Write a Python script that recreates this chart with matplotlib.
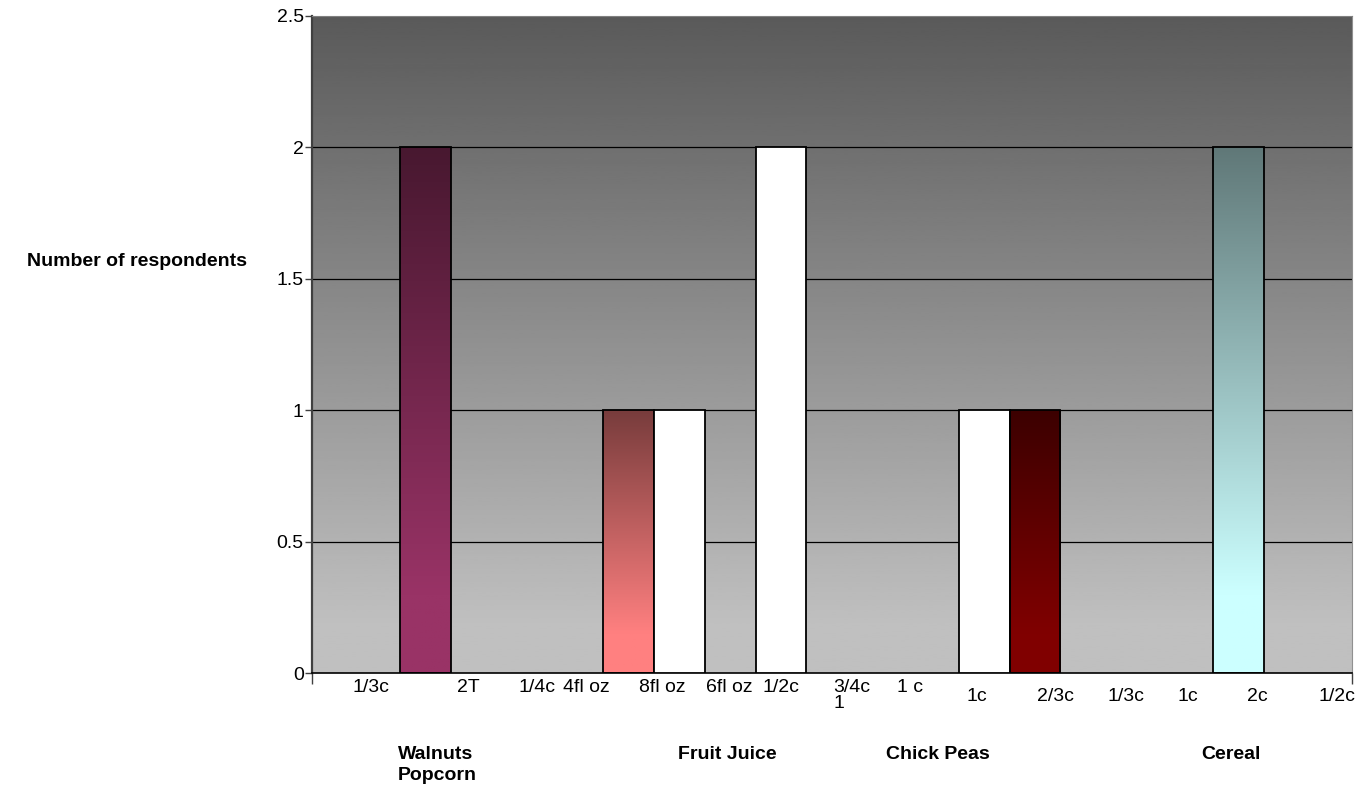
import matplotlib.pyplot as plt
import numpy as np
from matplotlib.colors import to_rgb

plt.rcParams['font.family'] = ['Liberation Sans', 'DejaVu Sans']

# respondents per slot along the category axis (0 = no bar)
respondents = [0, 2, 0, 0, 0, 1, 1, 0, 2, 0, 0, 0, 1, 1, 0, 0, 0, 2, 0, 0]
# colours of the drawn bars, in order, and whether they are shaded
bar_colors = ["#993366", "#ff8080", "#ffffff", "#ffffff", "#ffffff", "#800000", "#ccffff"]
bar_shaded = [True, True, False, False, False, True, True]

portion_labels = ["1/3c", "2T", "1/4c", "4fl oz", "8fl oz", "6fl oz", "1/2c",
                  "3/4c\n1", "1 c", "1c", "2/3c", "1/3c", "1c", "2c", "1/2c"]
portion_pos = [-0.07, 1.84, 3.2, 4.16, 5.66, 6.99, 8.0,
               9.4, 10.54, 11.86, 13.41, 14.79, 16.01, 17.37, 18.94]

food_labels = ["Walnuts\nPopcorn", "Fruit Juice", "Chick Peas", "Cereal"]
food_pos = [1.23, 6.94, 11.09, 16.86]

xmin, xmax = -1.234, 19.24
ymax = 2.5

fig = plt.figure(figsize=(13.63, 7.96), dpi=100)
ax = fig.add_axes([312 / 1363, 123 / 796, 1040 / 1363, 657 / 796])

# fondo en degradado gris
f = np.linspace(0, 1, 256)
gray = 90 + np.clip(f / 0.93, 0, 1) * 102
ax.imshow(gray[:, None], extent=[xmin, xmax, 0, ymax], aspect='auto',
          cmap='gray', vmin=0, vmax=255, zorder=0)

# lineas de la cuadricula
for yv in [0.5, 1, 1.5, 2]:
    ax.axhline(yv, color='black', linewidth=0.9, zorder=1)

k = 0
for i, v in enumerate(respondents):
    if v == 0:
        continue
    c = bar_colors[k]
    if bar_shaded[k]:
        b = ax.bar(i, v, width=1.0, facecolor='none', edgecolor='black',
                   linewidth=1.3, zorder=3)[0]
        rgb = np.array(to_rgb(c))
        top = rgb * 0.47
        t = np.clip(np.linspace(0, 1, 200) / 0.85, 0, 1)[:, None]
        img = (top + (rgb - top) * t).reshape(200, 1, 3)
        im = ax.imshow(img, extent=[i - 0.5, i + 0.5, 0, v], aspect='auto', zorder=2)
        im.set_clip_path(b)
    else:
        ax.bar(i, v, width=1.0, color=c, edgecolor='black', linewidth=1.3, zorder=3)
    k += 1

ax.set_xlim(xmin, xmax)
ax.set_ylim(0, ymax)
ax.set_yticks([0, 0.5, 1, 1.5, 2, 2.5])
ax.set_yticklabels(["0", "0.5", "1", "1.5", "2", "2.5"])
ax.set_xticks([xmin, xmax])
ax.set_xticklabels([])
ax.tick_params(axis='y', length=5, width=1, pad=1, labelsize=14, color='#404040')
ax.tick_params(axis='x', length=8, width=1, color='#404040')

ax.spines['left'].set_color('#404040')
ax.spines['left'].set_linewidth(1.6)
ax.spines['bottom'].set_color('black')
ax.spines['bottom'].set_linewidth(1.2)
ax.spines['top'].set_color('#808080')
ax.spines['right'].set_color('#909090')

for j, (lab, xp) in enumerate(zip(portion_labels, portion_pos)):
    yp = -0.009 if j < 9 else -0.023
    ax.text(xp, yp, lab, transform=ax.get_xaxis_transform(), ha='center', va='top',
            fontsize=14, multialignment='left', linespacing=0.95)

for lab, xp in zip(food_labels, food_pos):
    ax.text(xp, -0.111, lab, transform=ax.get_xaxis_transform(), ha='center', va='top',
            fontsize=14, fontweight='bold', multialignment='left', linespacing=1.35)

fig.text(247 / 1363, (796 - 261) / 796, "Number of respondents", ha='right', va='center',
         fontsize=14, fontweight='bold')

fig.savefig("out.png", dpi=100)
